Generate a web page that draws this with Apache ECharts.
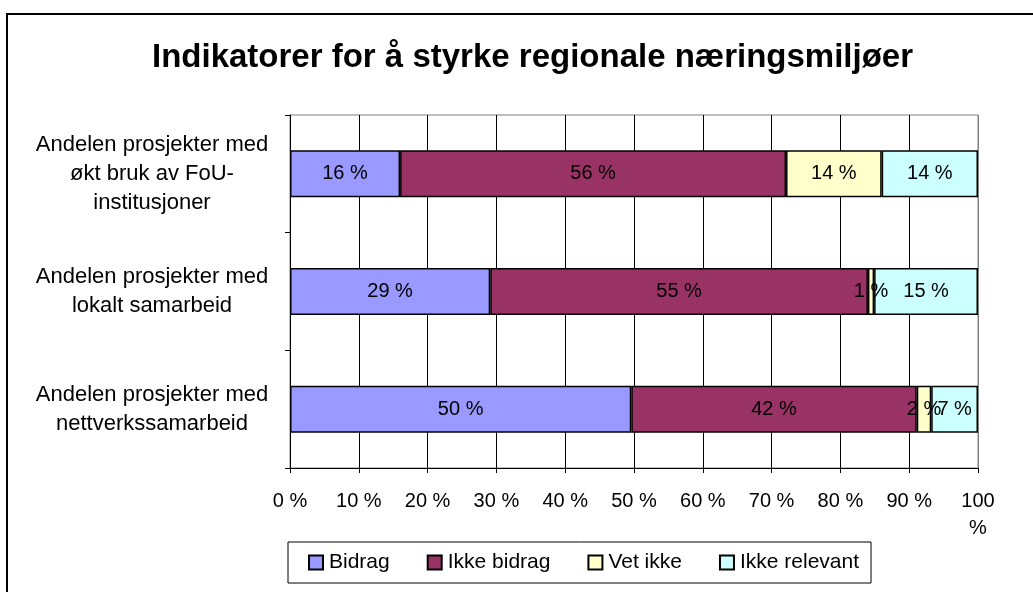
<!DOCTYPE html>
<html>
<head>
<meta charset="utf-8">
<script src="https://cdn.jsdelivr.net/npm/echarts@6/dist/echarts.min.js"></script>
<style>
html,body{margin:0;padding:0;background:#fff;}
#chart{width:1033px;height:592px;}
</style>
</head>
<body>
<div id="chart"></div>
<script>
const titleText = 'Indikatorer for å styrke regionale næringsmiljøer';
const categories = [
  'Andelen prosjekter med\nøkt bruk av FoU-\ninstitusjoner',
  'Andelen prosjekter med\nlokalt samarbeid',
  'Andelen prosjekter med\nnettverkssamarbeid'
];
const seriesNames = ['Bidrag', 'Ikke bidrag', 'Vet ikke', 'Ikke relevant'];
const bidrag = [16.0, 29.1, 49.6];
const ikkeBidrag = [56.1, 54.9, 41.5];
const vetIkke = [13.9, 0.9, 2.1];
const ikkeRelevant = [14.0, 15.1, 6.8];
const colors = ['#9999FF', '#993366', '#FFFFCC', '#CCFFFF'];
const xTicks = [0, 10, 20, 30, 40, 50, 60, 70, 80, 90, 100];

const FONT = "'Liberation Sans', Arial, sans-serif";
const values = [bidrag, ikkeBidrag, vetIkke, ikkeRelevant];

const chart = echarts.init(document.getElementById('chart'), null, {renderer: 'canvas'});
const splitColors = xTicks.map((t, i) => i === xTicks.length - 1 ? '#808080' : '#000000');

chart.setOption({
  backgroundColor: '#ffffff',
  animation: false,
  textStyle: {fontFamily: FONT},
  graphic: [{
    type: 'rect',
    shape: {x: 7, y: 14, width: 1100, height: 700},
    style: {fill: null, stroke: '#000', lineWidth: 2},
    silent: true
  }],
  title: {
    text: titleText,
    left: 152,
    top: 41,
    padding: 0,
    textStyle: {fontFamily: FONT, fontSize: 33, fontWeight: 'bold', color: '#000'}
  },
  legend: {
    data: seriesNames,
    left: 288,
    top: 542,
    orient: 'horizontal',
    padding: [10, 12, 10, 20],
    itemGap: 37,
    itemWidth: 14,
    itemHeight: 14,
    icon: 'rect',
    borderColor: '#000',
    borderWidth: 1,
    textStyle: {fontFamily: FONT, fontSize: 21, color: '#000', padding: [0, 0, 0, 1]}
  },
  grid: {
    left: 290, right: 55, top: 115, bottom: 124,
    show: true, borderColor: '#808080', borderWidth: 1, backgroundColor: '#fff'
  },
  xAxis: {
    type: 'value',
    min: 0, max: 100, interval: 10,
    axisLine: {show: true, lineStyle: {color: '#000', width: 1}},
    axisTick: {show: true, length: 5, lineStyle: {color: '#000'}},
    splitLine: {show: true, lineStyle: {color: splitColors, width: 1}},
    axisLabel: {
      fontFamily: FONT, fontSize: 20, color: '#000', margin: 20, lineHeight: 27,
      formatter: v => v === 100 ? '100\n%' : v + ' %'
    }
  },
  yAxis: {
    type: 'category',
    data: categories,
    inverse: true,
    axisLine: {show: true, lineStyle: {color: '#000', width: 1}},
    axisTick: {show: true, length: 5, lineStyle: {color: '#000'}},
    splitLine: {show: false},
    axisLabel: {
      fontFamily: FONT, fontSize: 22, color: '#000', align: 'center',
      margin: 138, lineHeight: 29
    }
  },
  series: seriesNames.map((name, i) => ({
    name: name,
    type: 'bar',
    stack: 'total',
    data: values[i],
    barWidth: 47,
    itemStyle: {color: colors[i], borderColor: '#000', borderWidth: 1.5},
    label: {
      show: true, position: 'inside', color: '#000',
      fontFamily: FONT, fontSize: 20,
      formatter: p => Math.round(p.value) + ' %'
    }
  }))
});
</script>
</body>
</html>
